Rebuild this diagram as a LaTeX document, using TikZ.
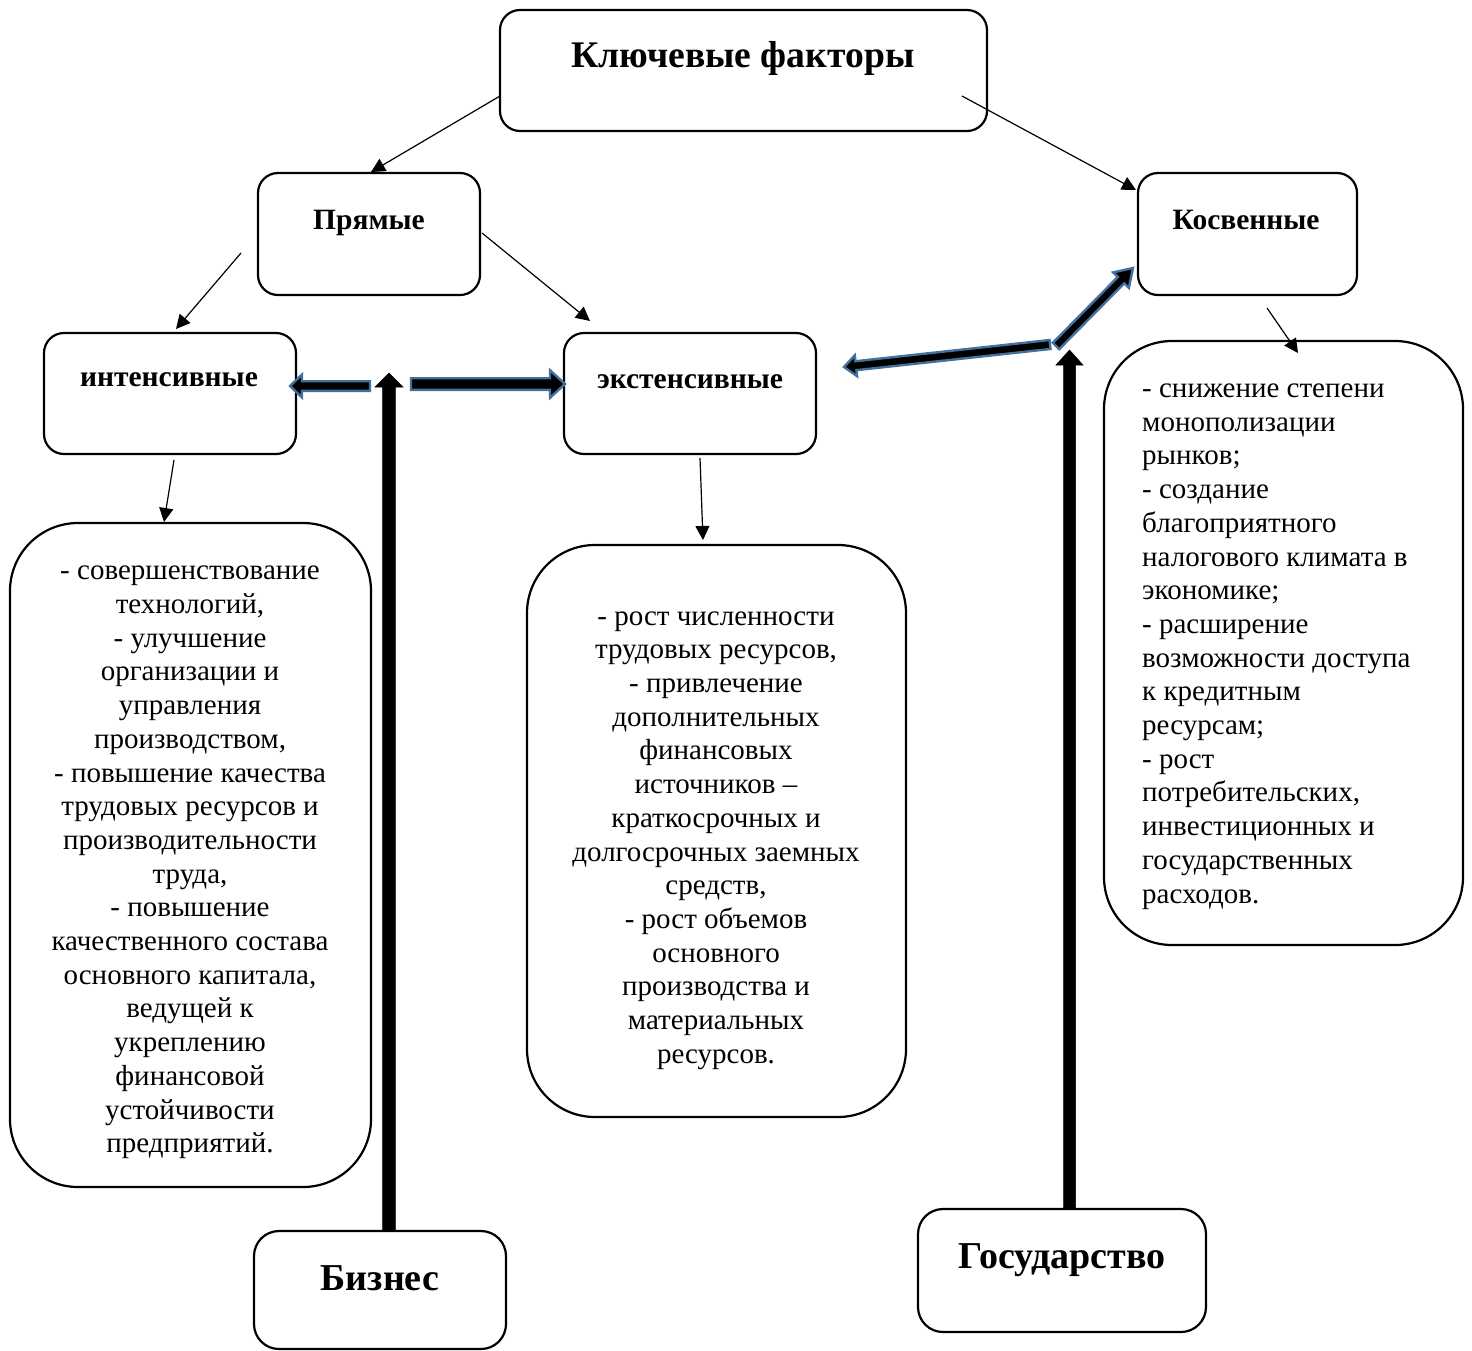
\documentclass[tikz,border=0pt]{standalone}
\usepackage{fontspec}
\setmainfont{Liberation Serif}
\usetikzlibrary{calc,arrows.meta}

% Block arrow as a polygon: style, start, tip, shaft half-width, head half-width, head length
\newcommand\blockarrow[6]{%
  \coordinate (ba-h) at ($(#3)!#6!(#2)$);
  \draw[#1] ($(#2)!#4!90:(#3)$) -- ($(ba-h)!#4!-90:(#2)$) -- ($(ba-h)!#5!-90:(#2)$)
    -- (#3) -- ($(ba-h)!#5!90:(#2)$) -- ($(ba-h)!#4!90:(#2)$) -- ($(#2)!#4!-90:(#3)$) -- cycle;
}

\definecolor{arrowedge}{HTML}{41719C}

\begin{document}
\begin{tikzpicture}[x=1pt,y=-1pt,
  box/.style={draw, line width=2.2pt, rounded corners=20pt, inner sep=0pt},
  bigbox/.style={box, rounded corners=68pt},
  headtext/.style={font=\fontsize{37.6}{44}\selectfont\bfseries, inner sep=0pt},
  sidetext/.style={font=\fontsize{38}{44}\selectfont\bfseries, inner sep=0pt},
  labeltext/.style={font=\fontsize{29.5}{34}\selectfont\bfseries, inner sep=0pt},
  bodytext/.style={font=\fontsize{29}{33.7}\selectfont, inner sep=0pt},
  thin/.style={line width=1.2pt, -{Triangle[length=14pt,width=14pt]}},
  outlined/.style={fill=black, draw=arrowedge, line width=2.4pt, line join=miter},
  solid/.style={fill=black, draw=black, line width=0.5pt},
]
\useasboundingbox (0,0) rectangle (1472,1350);

% boxes
\node[box, minimum width=487pt, minimum height=121pt] (kf) at (743.5,70.5) {};
\node[headtext, anchor=base] (kf-t) at (743,67) {Ключевые факторы};

\node[box, minimum width=222pt, minimum height=122pt] (pr) at (369,234) {};
\node[labeltext, anchor=base] (pr-t) at (369,229) {Прямые};

\node[box, minimum width=219pt, minimum height=122pt] (kos) at (1247.5,234) {};
\node[labeltext, anchor=base] (kos-t) at (1246,229) {Косвенные};

\node[box, minimum width=252pt, minimum height=121pt] (int) at (170,393.5) {};
\node[labeltext, anchor=base] (int-t) at (169,386) {интенсивные};

\node[box, minimum width=252pt, minimum height=121pt] (ext) at (690,393.5) {};
\node[labeltext, anchor=base] (ext-t) at (690,388) {экстенсивные};

\node[bigbox, minimum width=361pt, minimum height=664pt] (lbox) at (190.5,855) {};
\node[bodytext, align=center] (lbox-t) at (190,862.5) {- совершенствование\\технологий,\\- улучшение\\организации и\\управления\\производством,\\- повышение качества\\трудовых ресурсов и\\производительности\\труда,\\- повышение\\качественного состава\\основного капитала,\\ведущей к\\укреплению\\финансовой\\устойчивости\\предприятий.};

\node[bigbox, minimum width=379pt, minimum height=572pt] (mbox) at (716.5,831) {};
\node[bodytext, align=center] (mbox-t) at (716,840.5) {- рост численности\\трудовых ресурсов,\\- привлечение\\дополнительных\\финансовых\\источников –\\краткосрочных и\\долгосрочных заемных\\средств,\\- рост объемов\\основного\\производства и\\материальных\\ресурсов.};

\node[bigbox, minimum width=359pt, minimum height=604pt] (rbox) at (1283.5,643) {};
\node[bodytext, align=left, anchor=west] (rbox-t) at (1142,646.5) {- снижение степени\\монополизации\\рынков;\\- создание\\благоприятного\\налогового климата в\\экономике;\\- расширение\\возможности доступа\\к кредитным\\ресурсам;\\- рост\\потребительских,\\инвестиционных и\\государственных\\расходов.};

\node[box, rounded corners=25pt, minimum width=252pt, minimum height=118pt] (biz) at (380,1290) {};
\node[sidetext, anchor=base] (biz-t) at (380,1290) {Бизнес};

\node[box, rounded corners=25pt, minimum width=288pt, minimum height=123pt] (gos) at (1062,1270.5) {};
\node[sidetext, anchor=base] (gos-t) at (1062,1268) {Государство};

% thin connectors
\coordinate (a1s) at (500,96);   \coordinate (a1e) at (371,172);
\coordinate (a2s) at (962,96);   \coordinate (a2e) at (1136,190);
\coordinate (a3s) at (241,253);  \coordinate (a3e) at (176,329);
\coordinate (a4s) at (482,233);  \coordinate (a4e) at (590,321);
\coordinate (a5s) at (1267,308); \coordinate (a5e) at (1298,353);
\coordinate (a6s) at (174,460);  \coordinate (a6e) at (164,522);
\coordinate (a7s) at (700,458);  \coordinate (a7e) at (703,540);
\draw[thin] (a1s) -- (a1e);
\draw[thin] (a2s) -- (a2e);
\draw[thin] (a3s) -- (a3e);
\draw[thin] (a4s) -- (a4e);
\draw[thin] (a5s) -- (a5e);
\draw[thin] (a6s) -- (a6e);
\draw[thin] (a7s) -- (a7e);

% block arrows
\coordinate (b1s) at (370,386);  \coordinate (b1e) at (290,386);
\coordinate (b2s) at (411,384);  \coordinate (b2e) at (565,384);
\coordinate (b3s) at (1050,344.5); \coordinate (b3e) at (844,367);
\coordinate (b4s) at (1056,346); \coordinate (b4e) at (1133,268);
\coordinate (b5s) at (389,1231); \coordinate (b5e) at (389,373);
\coordinate (b6s) at (1069.5,1209); \coordinate (b6e) at (1069.5,350);
\blockarrow{outlined}{b1s}{b1e}{4.8pt}{11.5pt}{12pt}
\blockarrow{outlined}{b2s}{b2e}{5.8pt}{13.8pt}{15pt}
\blockarrow{outlined}{b3s}{b3e}{4.5pt}{10.5pt}{12pt}
\blockarrow{outlined}{b4s}{b4e}{4.5pt}{11pt}{17pt}
\blockarrow{solid}{b5s}{b5e}{6.3pt}{14pt}{14pt}
\blockarrow{solid}{b6s}{b6e}{6pt}{13.5pt}{15pt}
\end{tikzpicture}
\end{document}
